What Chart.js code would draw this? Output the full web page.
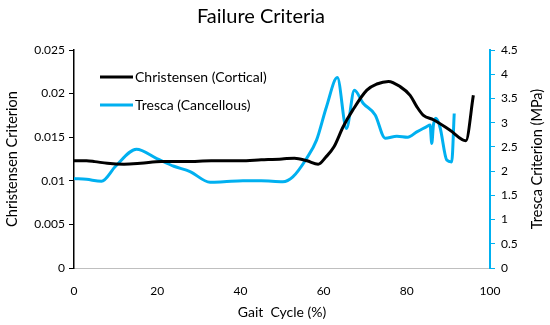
<!DOCTYPE html>
<html>
<head>
<meta charset="utf-8">
<script src="https://cdn.jsdelivr.net/npm/chart.js@4"></script>
<style>
  html, body { margin: 0; padding: 0; background: #fff; }
  #wrap { width: 550px; height: 325px; }
</style>
</head>
<body>
<div id="wrap"><canvas id="failureChart"></canvas></div>
<script>
// Christensen (Cortical) - left axis
const christensenX = [0, 3, 5, 8, 12, 16, 21, 27, 33, 40, 45, 50, 53, 56, 58.7, 60.5, 62.5, 64.7, 67, 70.4, 72.8, 75.6, 78.4, 80.8, 82.4, 84, 86.4, 90.4, 94.2, 96];
const christensenY = [0.0123, 0.0123, 0.0122, 0.0120, 0.0119, 0.0120, 0.0122, 0.0122, 0.0123, 0.0123, 0.0124, 0.0125, 0.0126, 0.0123, 0.0119, 0.0127, 0.0139, 0.0162, 0.0181, 0.0204, 0.0211, 0.0214, 0.0208, 0.0198, 0.0185, 0.0175, 0.0170, 0.0158, 0.0146, 0.0198];

// Tresca (Cancellous) - right axis, MPa
const trescaX = [0, 3, 6.6, 10, 15, 19.9, 24, 27.9, 32.7, 36, 40.6, 45, 50.2, 52.6, 55.9, 58.3, 60.7, 63.3, 65.5, 67.4, 69.5, 72.4, 74.8, 77.6, 80.2, 82.4, 84.8, 85.6, 86, 86.4, 87, 88, 89.6, 90.8, 91.4];
const trescaY = [1.85, 1.83, 1.79, 2.1, 2.45, 2.26, 2.1, 1.99, 1.77, 1.78, 1.80, 1.80, 1.78, 1.88, 2.26, 2.64, 3.33, 3.93, 2.88, 3.67, 3.40, 3.16, 2.68, 2.72, 2.70, 2.81, 2.92, 2.95, 2.57, 2.95, 3.09, 2.9, 2.23, 2.19, 3.19];

const seriesNames = ['Christensen (Cortical)', 'Tresca (Cancellous)'];
const chartTitle = 'Failure Criteria';
const rightAxisTitle = 'Tresca Criterion (MPa)';
const blue = '#00B0F0';
const fontFamily = 'Lato, "Open Sans", sans-serif';

function toPoints(xs, ys) {
    return xs.map((x, i) => ({ x: x, y: ys[i] }));
}

// excel-like tick text: 0.02 not 0.020, 1 not 1.0
function plainTick(value) {
    return String(Number(value.toFixed(3)));
}

// legend inside the plot, title, and right axis title reading bottom-to-top
const extras = {
    id: 'extras',
    afterDraw(chart) {
        const ctx = chart.ctx;
        const area = chart.chartArea;
        ctx.save();
        ctx.fillStyle = '#000';

        ctx.font = '20px ' + fontFamily;
        ctx.textAlign = 'center';
        ctx.textBaseline = 'middle';
        ctx.fillText(chartTitle, 261, 17);

        ctx.font = '14px ' + fontFamily;
        ctx.textAlign = 'left';
        chart.data.datasets.forEach((ds, i) => {
            const y = area.top + 27 + i * 28;
            const x0 = area.left + 26;
            ctx.strokeStyle = ds.borderColor;
            ctx.lineWidth = 3;
            ctx.beginPath();
            ctx.moveTo(x0, y);
            ctx.lineTo(x0 + 33, y);
            ctx.stroke();
            ctx.fillText(ds.label, x0 + 35, y);
        });

        ctx.translate(537, (area.top + area.bottom) / 2);
        ctx.rotate(-Math.PI / 2);
        ctx.textAlign = 'center';
        ctx.font = '14.5px ' + fontFamily;
        ctx.fillText(rightAxisTitle, 0, 0);
        ctx.restore();
    }
};

new Chart(document.getElementById('failureChart'), {
    type: 'line',
    data: {
        datasets: [
            {
                label: seriesNames[0],
                data: toPoints(christensenX, christensenY),
                borderColor: '#000',
                borderWidth: 3,
                pointRadius: 0,
                cubicInterpolationMode: 'monotone',
                yAxisID: 'y'
            },
            {
                label: seriesNames[1],
                data: toPoints(trescaX, trescaY),
                borderColor: blue,
                borderWidth: 3,
                pointRadius: 0,
                cubicInterpolationMode: 'monotone',
                yAxisID: 'y1'
            }
        ]
    },
    options: {
        responsive: true,
        maintainAspectRatio: false,
        animation: false,
        layout: { padding: { top: 50 } },
        plugins: {
            legend: { display: false },
            tooltip: { enabled: false },
            title: { display: false }
        },
        scales: {
            x: {
                type: 'linear',
                min: 0,
                max: 100,
                ticks: { stepSize: 20, color: '#000', font: { family: fontFamily, size: 12 }, padding: 8 },
                grid: { display: false },
                border: { color: '#bfbfbf', width: 1 },
                title: { display: true, text: 'Gait  Cycle (%)', color: '#000', font: { family: fontFamily, size: 14 } },
                afterFit(scale) { scale.height = 57; }
            },
            y: {
                position: 'left',
                min: 0,
                max: 0.025,
                ticks: { stepSize: 0.005, color: '#000', font: { family: fontFamily, size: 12 }, padding: 4, callback: plainTick },
                grid: { drawOnChartArea: false, color: '#000', tickLength: 5 },
                border: { color: '#000', width: 1.5 },
                title: { display: true, text: 'Christensen Criterion', color: '#000', font: { family: fontFamily, size: 14.5 } },
                afterFit(scale) { scale.width = 74; }
            },
            y1: {
                position: 'right',
                min: 0,
                max: 4.5,
                ticks: { stepSize: 0.5, color: '#000', font: { family: fontFamily, size: 12 }, padding: 6, callback: plainTick },
                grid: { drawOnChartArea: false, color: blue, tickLength: 5 },
                border: { color: blue, width: 2 },
                afterFit(scale) { scale.width = 60; }
            }
        }
    },
    plugins: [extras]
});
</script>
</body>
</html>
